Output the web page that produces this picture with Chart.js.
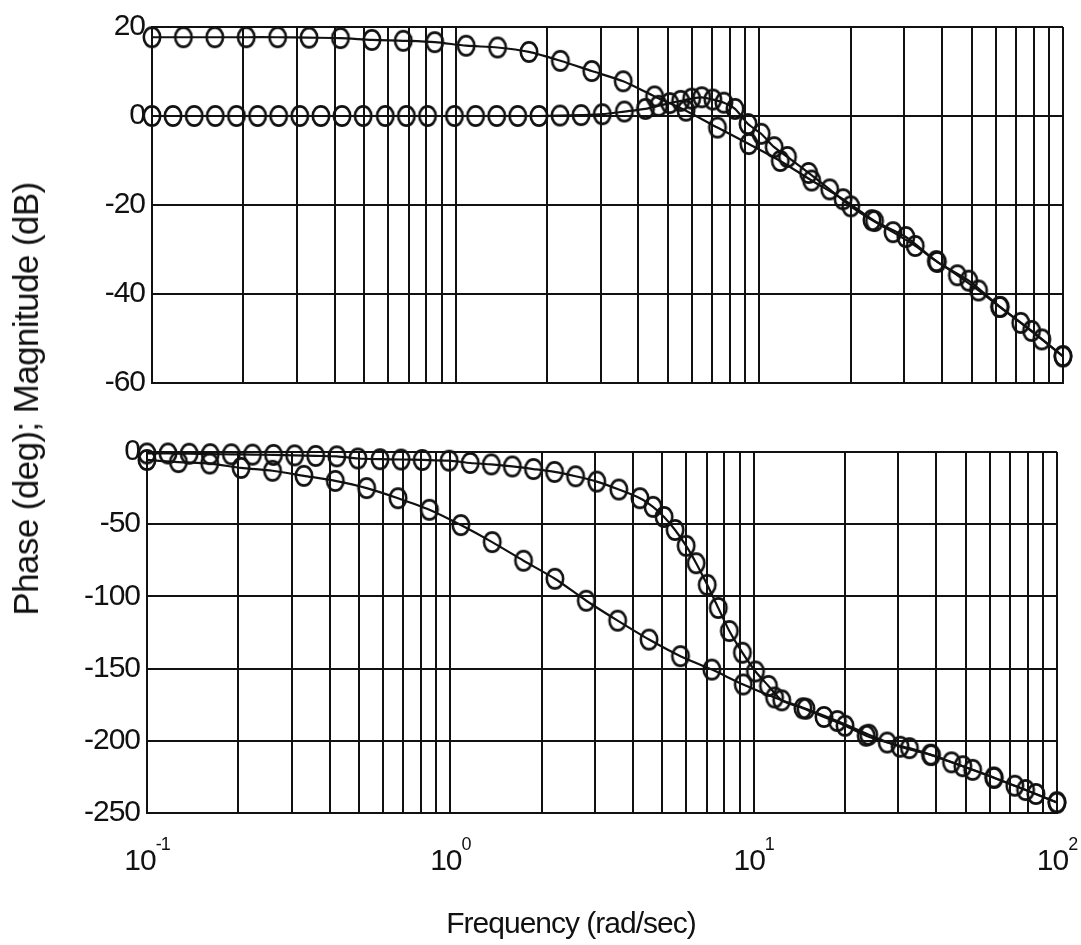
<!DOCTYPE html>
<html>
<head>
<meta charset="utf-8">
<script src="https://cdn.jsdelivr.net/npm/chart.js@4.4.1/dist/chart.umd.min.js"></script>
<style>
  body { margin: 0; background: #fff; width: 1081px; height: 945px; position: relative; overflow: hidden;
         font-family: 'Liberation Sans', Arial, sans-serif; color: #111; }
  #magChart { position: absolute; left: 0; top: 0; }
  #phaseChart { position: absolute; left: 0; top: 420px; }
  .ytitle { position: absolute; left: 26px; top: 399px; transform: translate(-50%, -50%) rotate(-90deg);
            font-size: 35px; letter-spacing: -0.6px; white-space: nowrap; }
  .xtitle { position: absolute; left: 571px; top: 923px; transform: translate(-50%, -50%);
            font-size: 30px; letter-spacing: -1px; white-space: nowrap; }
</style>
</head>
<body>
<canvas id="magChart" width="1081" height="420"></canvas>
<canvas id="phaseChart" width="1081" height="525"></canvas>
<div class="ytitle">Phase (deg); Magnitude (dB)</div>
<div class="xtitle">Frequency (rad/sec)</div>
<script>
// first data set (high DC gain, slow phase)
const freqA = [0.1, 0.1269, 0.161, 0.2043, 0.2593, 0.329, 0.4175, 0.5298, 0.6723, 0.8532,
  1.083, 1.374, 1.743, 2.212, 2.807, 3.562, 4.52, 5.736, 7.279, 9.237,
  11.72, 14.87, 18.87, 23.95, 30.39, 38.57, 48.94, 62.1, 78.8, 100];
const magA = [17.7, 17.7, 17.7, 17.7, 17.7, 17.6, 17.5, 17.1, 16.9, 16.6,
  15.8, 15.4, 14.4, 12.4, 10.1, 7.8, 4.4, 1.2, -2.6, -6.3,
  -10.1, -14.5, -18.7, -23.6, -27.2, -32.8, -37.0, -42.9, -48.3, -54.0];
const phaseA = [-5.5, -7, -8, -11, -13, -16.5, -20, -25, -32, -40,
  -50.6, -62.4, -75.3, -87.8, -103, -116.8, -129.9, -141.4, -150.7, -161,
  -170, -177.8, -186.3, -195.8, -204.1, -209.9, -217.6, -225.7, -234.1, -242.7];

// second data set (0 dB, resonant peak)
const freqB = [0.1, 0.1173, 0.1377, 0.1616, 0.1897, 0.2227, 0.2613, 0.3067, 0.36, 0.4225,
  0.4959, 0.5864, 0.6882, 0.8078, 0.991, 1.163, 1.365, 1.601, 1.88, 2.206,
  2.588, 3.039, 3.594, 4.218, 4.658, 5.066, 5.508, 5.99, 6.464, 7.03,
  7.645, 8.316, 9.18, 10.14, 11.19, 12.38, 14.53, 17.05, 20.01, 23.49,
  27.56, 32.61, 38.27, 44.91, 52.71, 61.86, 72.6, 85.19, 100];
const magB = [0, 0, 0, 0, 0, 0, 0, 0, 0, 0,
  0, 0, 0, 0, 0, 0, 0, 0, 0, 0.1,
  0.2, 0.4, 1.0, 1.6, 2.3, 2.9, 3.4, 3.9, 4.2, 3.7,
  3.0, 1.6, -1.8, -4.0, -7.0, -9.2, -12.8, -16.5, -20.3, -23.4,
  -26.1, -29.2, -32.6, -35.8, -39.2, -42.9, -46.5, -50.2, -54.0];
const phaseB = [-1, -1, -1.2, -1.5, -1.6, -1.8, -2, -2.3, -2.7, -3,
  -4.5, -5, -5.2, -5.5, -6, -7.6, -8.6, -10, -11.8, -13.8,
  -16.8, -20.5, -26, -32, -38, -45, -54, -65, -77, -92,
  -108, -124, -139, -152, -162, -172, -177.5, -183.5, -189.6, -196.5,
  -201.2, -205.1, -209.6, -214.9, -220.1, -225.4, -231.1, -236.8, -242.7];

// axes
const gridFreqs = [0.1, 0.2, 0.3, 0.4, 0.5, 0.6, 0.7, 0.8, 0.9,
  1, 2, 3, 4, 5, 6, 7, 8, 9,
  10, 20, 30, 40, 50, 60, 70, 80, 90, 100];
const decadeTicks = [0.1, 1, 10, 100];
const decadeExps = ['-1', '0', '1', '2'];
const magTicks = [20, 0, -20, -40, -60];
const phaseTicks = [0, -50, -100, -150, -200, -250];

const ink = '#111';
const tickFont = { family: "'Liberation Sans', Arial, sans-serif", size: 30 };

function ellipseMarker() {
  const c = document.createElement('canvas');
  c.width = 24; c.height = 26;
  const g = c.getContext('2d');
  g.strokeStyle = ink;
  g.lineWidth = 2.6;
  g.beginPath();
  g.ellipse(12, 13, 8.2, 9.6, 0, 0, Math.PI * 2);
  g.stroke();
  return c;
}
const marker = ellipseMarker();

function series(xs, ys) {
  return {
    data: xs.map((f, i) => ({ x: f, y: ys[i] })),
    borderColor: ink,
    borderWidth: 2.2,
    tension: 0.25,
    pointStyle: marker,
    clip: false
  };
}

const tightText = {
  id: 'tightText',
  beforeDraw(chart) { chart.ctx.letterSpacing = '-1px'; }
};

const decadeLabels = {
  id: 'decadeLabels',
  afterDraw(chart) {
    const ctx = chart.ctx;
    const xs = chart.scales.x;
    ctx.save();
    ctx.fillStyle = ink;
    ctx.textBaseline = 'alphabetic';
    ctx.textAlign = 'left';
    ctx.letterSpacing = '-1px';
    decadeTicks.forEach((v, i) => {
      const px = xs.getPixelForValue(v);
      ctx.font = "30px 'Liberation Sans', Arial, sans-serif";
      const wBase = ctx.measureText('10').width;
      ctx.font = "18px 'Liberation Sans', Arial, sans-serif";
      const wExp = ctx.measureText(decadeExps[i]).width;
      const start = px - (wBase + wExp) / 2;
      ctx.font = "30px 'Liberation Sans', Arial, sans-serif";
      ctx.fillText('10', start, 450);
      ctx.font = "18px 'Liberation Sans', Arial, sans-serif";
      ctx.fillText(decadeExps[i], start + wBase, 430);
    });
    ctx.restore();
  }
};

function xScale(height) {
  return {
    type: 'logarithmic',
    min: 0.1,
    max: 100,
    afterBuildTicks: s => { s.ticks = gridFreqs.map(v => ({ value: v })); },
    afterFit: s => { s.height = height; },
    ticks: { display: false },
    grid: { color: ink, lineWidth: 2, drawTicks: false },
    border: { color: ink, width: 2 }
  };
}

function yScale(min, max, ticks, width) {
  return {
    min: min,
    max: max,
    afterBuildTicks: s => { s.ticks = ticks.map(v => ({ value: v })); },
    afterFit: s => { s.width = width; },
    ticks: { font: tickFont, color: ink, padding: 7 },
    grid: { color: ink, lineWidth: 2, drawTicks: false },
    border: { color: ink, width: 2 }
  };
}

new Chart(document.getElementById('magChart'), {
  type: 'line',
  data: { datasets: [series(freqA, magA), series(freqB, magB)] },
  options: {
    responsive: false,
    animation: false,
    devicePixelRatio: 1,
    layout: { padding: { left: 0, right: 18, top: 27, bottom: 37 } },
    plugins: { legend: { display: false }, tooltip: { enabled: false } },
    scales: {
      x: xScale(0),
      y: yScale(-60, 20, magTicks, 152)
    }
  },
  plugins: [tightText]
});

new Chart(document.getElementById('phaseChart'), {
  type: 'line',
  data: { datasets: [series(freqA, phaseA), series(freqB, phaseB)] },
  options: {
    responsive: false,
    animation: false,
    devicePixelRatio: 1,
    layout: { padding: { left: 0, right: 24, top: 32, bottom: 0 } },
    plugins: { legend: { display: false }, tooltip: { enabled: false } },
    scales: {
      x: xScale(132),
      y: yScale(-250, 0, phaseTicks, 147)
    }
  },
  plugins: [tightText, decadeLabels]
});
</script>
</body>
</html>
